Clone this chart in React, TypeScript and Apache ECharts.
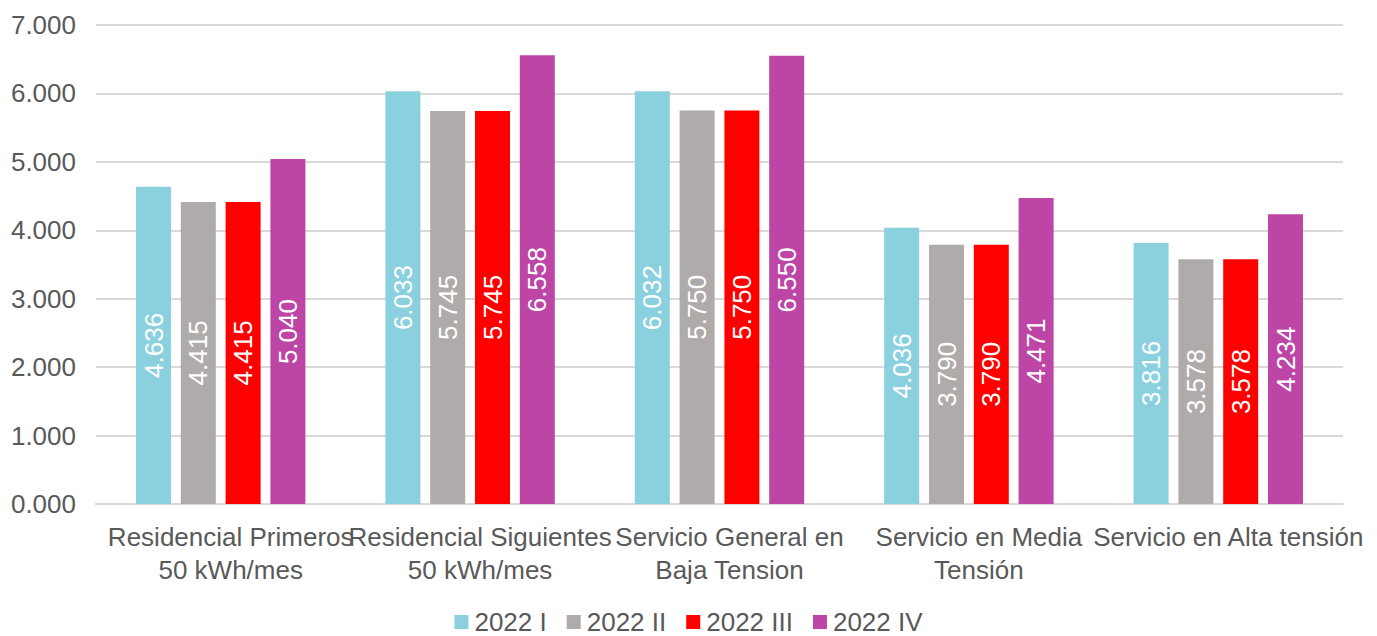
import React, { useEffect, useRef } from "react";
import * as echarts from "echarts";

const categories = [
  "Residencial Primeros\n50 kWh/mes",
  "Residencial Siguientes\n50 kWh/mes",
  "Servicio General en\nBaja Tension",
  "Servicio en Media\nTensión",
  "Servicio en Alta tensión",
];
const seriesNames = ["2022 I", "2022 II", "2022 III", "2022 IV"];
const s1 = [4.636, 6.033, 6.032, 4.036, 3.816];
const s2 = [4.415, 5.745, 5.75, 3.79, 3.578];
const s3 = [4.415, 5.745, 5.75, 3.79, 3.578];
const s4 = [5.04, 6.558, 6.55, 4.471, 4.234];
const colors = ["#8AD0DF", "#AFABAB", "#FF0000", "#BC45A6"];

const fmt = (v: number) => v.toFixed(3);

export default function App() {
  const ref = useRef<HTMLDivElement>(null);
  useEffect(() => {
    if (!ref.current) return;
    const chart = echarts.init(ref.current, null, { renderer: "svg" });
    const font = "Liberation Sans, Arial, sans-serif";
    const data = [s1, s2, s3, s4];
    chart.setOption({
      animation: false,
      textStyle: { fontFamily: font },
      grid: { left: 96, right: 34, top: 25, bottom: 132, containLabel: false },
      legend: {
        bottom: 0,
        left: "center",
        padding: [0, 5, 1, 5],
        itemWidth: 14,
        itemHeight: 14,
        itemGap: 20,
        icon: "rect",
        textStyle: { color: "#595959", fontSize: 26, lineHeight: 26, fontFamily: font, padding: [0, 0, 0, 1] },
        data: seriesNames,
      },
      xAxis: {
        type: "category",
        data: categories,
        axisLine: { show: true, lineStyle: { color: "#D9D9D9", width: 2 } },
        axisTick: { show: false },
        axisLabel: {
          color: "#595959",
          fontSize: 26,
          fontFamily: font,
          lineHeight: 33,
          margin: 16,
          interval: 0,
          padding: [0, 0, 0, 20],
        },
      },
      yAxis: {
        type: "value",
        min: 0,
        max: 7,
        interval: 1,
        axisLine: { show: false },
        axisTick: { show: false },
        splitLine: { lineStyle: { color: "#D9D9D9", width: 2 } },
        axisLabel: {
          color: "#595959",
          fontSize: 26,
          fontFamily: font,
          margin: 20,
          formatter: (v: number) => fmt(v),
        },
      },
      series: data.map((d, i) => ({
        name: seriesNames[i],
        type: "bar",
        data: d,
        barWidth: 35,
        barGap: "28%",
        itemStyle: { color: colors[i] },
        label: {
          show: true,
          position: "inside",
          rotate: 90,
          color: "#FFFFFF",
          fontSize: 26,
          fontFamily: font,
          formatter: (p: any) => fmt(p.value),
        },
      })),
    });
    return () => chart.dispose();
  }, []);
  return <div ref={ref} style={{ width: 1377, height: 636, position: "absolute", left: 0, top: 0 }} />;
}
